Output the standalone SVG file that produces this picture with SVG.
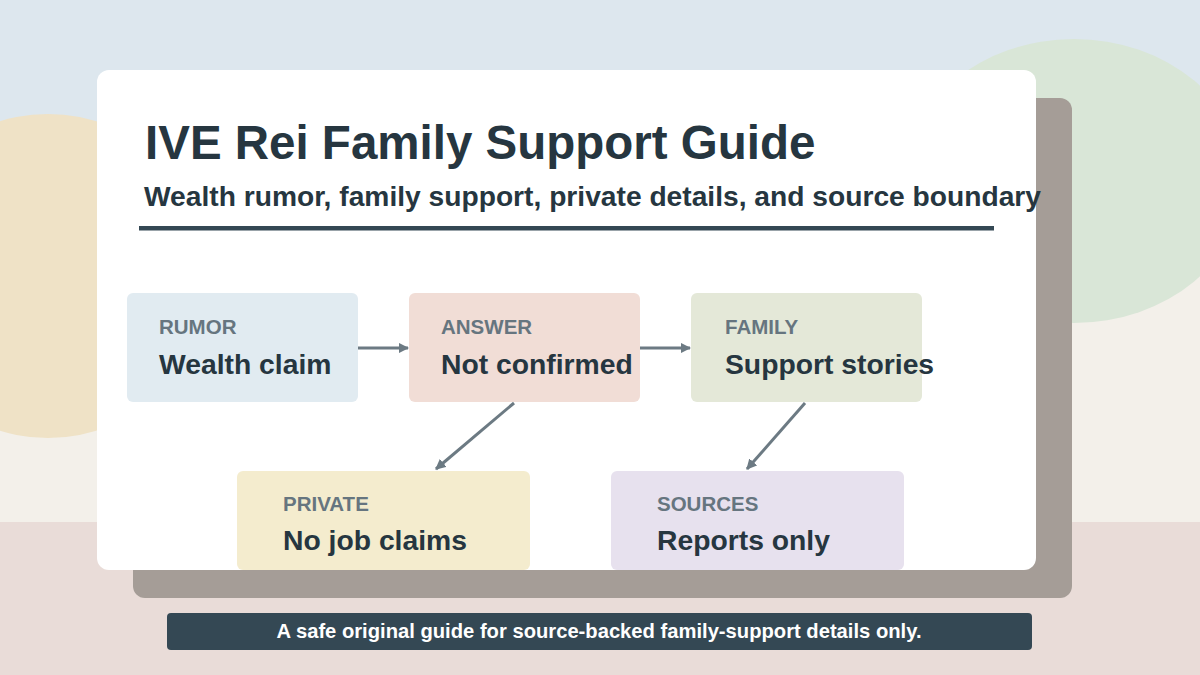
<svg xmlns="http://www.w3.org/2000/svg" width="1200" height="675" viewBox="0 0 1200 675">
<defs>
<style>
.nb{stroke:none}
.lab{font-family:"Liberation Sans",Arial,sans-serif;font-weight:bold;font-size:20.5px;fill:#66757f}
.main{font-family:"Liberation Sans",Arial,sans-serif;font-weight:bold;font-size:28.3px;fill:#263640}
.conn{stroke:#6c7a83;stroke-width:3;fill:none;marker-end:url(#ah)}
</style>
<marker id="ah" viewBox="0 0 10 10" refX="9" refY="5" markerWidth="3.5" markerHeight="3.5" orient="auto" markerUnits="strokeWidth">
<path d="M0,0 L10,5 L0,10 z" fill="#6c7a83"/>
</marker>
</defs>
<g id="background">
<rect x="0" y="0" width="1200" height="675" fill="#f3f0ea"/>
<rect x="0" y="0" width="1200" height="270" fill="#dde7ee"/>
<rect x="0" y="522" width="1200" height="153" fill="#e9dcd8"/>
<circle cx="48" cy="276" r="162" fill="#efe2c6"/>
<ellipse cx="1074" cy="181" rx="170" ry="142" fill="#d9e6d7"/>
</g>
<g id="card">
<rect x="133" y="98" width="939" height="500" rx="12" fill="#a59d97"/>
<rect x="97" y="70" width="939" height="500" rx="12" fill="#ffffff"/>
</g>
<g id="title">
<text x="145" y="159" font-family="Liberation Sans, Arial, sans-serif" font-weight="bold" font-size="47.5" fill="#263640">IVE Rei Family Support Guide</text>
<text x="144" y="206" font-family="Liberation Sans, Arial, sans-serif" font-weight="bold" font-size="28.2" fill="#263640">Wealth rumor, family support, private details, and source boundary</text>
<rect x="139" y="226" width="855" height="4.5" fill="#344854"/>
</g>
<g id="connectors">
<line class="conn" x1="358" y1="348" x2="408" y2="348"/>
<line class="conn" x1="640" y1="348" x2="690" y2="348"/>
<line class="conn" x1="514" y1="403" x2="436" y2="469"/>
<line class="conn" x1="805" y1="403" x2="747" y2="469"/>
</g>
<g id="node-rumor">
<rect class="nb" x="127" y="293" width="231" height="109" rx="6" fill="#e1ebf1"/>
<text class="lab" x="159" y="334">RUMOR</text>
<text class="main" x="159" y="374">Wealth claim</text>
</g>
<g id="node-answer">
<rect class="nb" x="409" y="293" width="231" height="109" rx="6" fill="#f1ddd6"/>
<text class="lab" x="441" y="334">ANSWER</text>
<text class="main" x="441" y="374">Not confirmed</text>
</g>
<g id="node-family">
<rect class="nb" x="691" y="293" width="231" height="109" rx="6" fill="#e4e8d8"/>
<text class="lab" x="725" y="334">FAMILY</text>
<text class="main" x="725" y="374">Support stories</text>
</g>
<g id="node-private">
<rect class="nb" x="237" y="471" width="293" height="99" rx="6" fill="#f4ecce"/>
<text class="lab" x="283" y="511">PRIVATE</text>
<text class="main" x="283" y="550">No job claims</text>
</g>
<g id="node-sources">
<rect class="nb" x="611" y="471" width="293" height="99" rx="6" fill="#e7e1ee"/>
<text class="lab" x="657" y="511">SOURCES</text>
<text class="main" x="657" y="550">Reports only</text>
</g>
<g id="footer">
<rect x="167" y="613" width="865" height="37" rx="4" fill="#344854"/>
<text x="599" y="638" text-anchor="middle" font-family="Liberation Sans, Arial, sans-serif" font-weight="bold" font-size="20.2" fill="#ffffff">A safe original guide for source-backed family-support details only.</text>
</g>
</svg>
